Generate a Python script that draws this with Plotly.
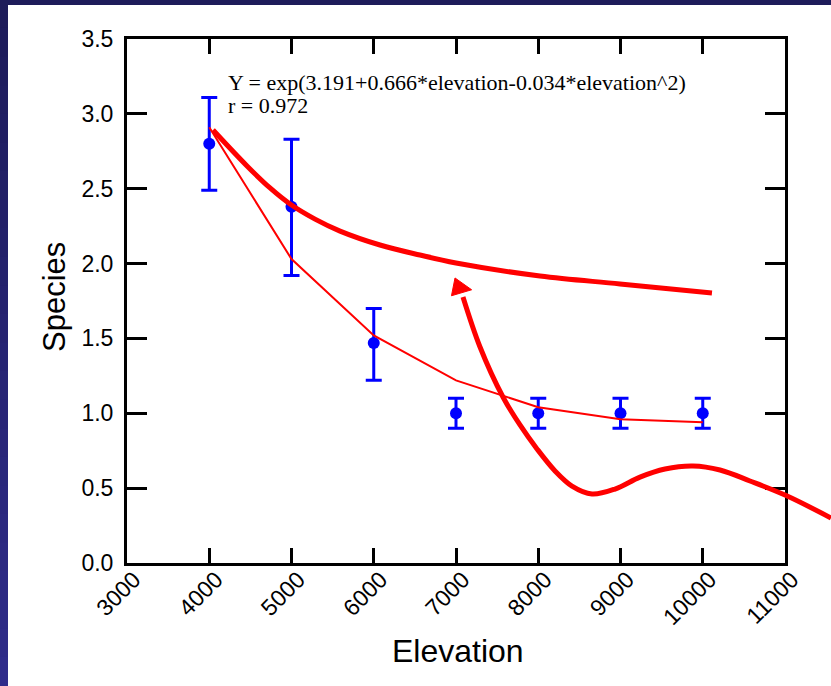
import plotly.graph_objects as go

# ---- data ----
elev = [4000, 5000, 6000, 7000, 8000, 9000, 10000]
species = [2.80, 2.38, 1.47, 1.00, 1.00, 1.00, 1.00]
err_plus = [0.31, 0.45, 0.23, 0.10, 0.10, 0.10, 0.10]
err_minus = [0.31, 0.46, 0.25, 0.10, 0.10, 0.10, 0.10]
fit_y = [2.91, 2.03, 1.52, 1.22, 1.04, 0.96, 0.94]

# hand-drawn emphasis curve (in elevation / species units)
curve_x = [4046, 4459, 4739, 4982, 5286, 5590, 6076, 6562, 7000, 8021, 8994, 10112]
curve_y = [2.892, 2.652, 2.505, 2.398, 2.297, 2.217, 2.124, 2.057, 2.004, 1.917, 1.864, 1.803]

# hand-drawn arrow (in elevation / species units, extends past the axes)
arrow_x = [11559, 11000, 10574, 10210, 9881, 9541, 9237, 8933, 8653, 8410, 8204,
           7985, 7778, 7571, 7292, 7085]
arrow_y = [0.301, 0.454, 0.548, 0.621, 0.648, 0.628, 0.574, 0.494, 0.461, 0.514, 0.615,
           0.762, 0.922, 1.109, 1.443, 1.777]
arrow_head_x = [6988, 6945, 7190, 6988]
arrow_head_y = [1.904, 1.785, 1.825, 1.904]

x_ticks = [3000, 4000, 5000, 6000, 7000, 8000, 9000, 10000, 11000]
x_tick_text = ["3000", "4000", "5000", "6000", "7000", "8000", "9000", "10000", "11000"]
y_ticks = [0.0, 0.5, 1.0, 1.5, 2.0, 2.5, 3.0, 3.5]

eq_line1 = "Y = exp(3.191+0.666*elevation-0.034*elevation^2)"
eq_line2 = "r = 0.972"

# ---- layout geometry (pixels) ----
W, H = 831, 686
PL, PR, PT, PB = 127, 785, 39, 563
XR = [3000, 11000]
YR = [0, 3.5]

xd = [PL / W, PR / W]
yd = [(H - PB) / H, (H - PT) / H]
# full-page overlay axes with identical data mapping
sx = (XR[1] - XR[0]) / (PR - PL)
sy = (YR[1] - YR[0]) / (PB - PT)
x2r = [XR[0] - PL * sx, XR[0] + (W - PL) * sx]
y2r = [YR[0] - (H - PB) * sy, YR[0] + PB * sy]

SANS = "Liberation Sans, Arial, sans-serif"
SERIF = "Liberation Serif, Times New Roman, serif"

fig = go.Figure()

fig.add_trace(go.Scatter(
    x=elev, y=species, mode="markers",
    marker=dict(color="#0000ff", size=12),
    error_y=dict(type="data", symmetric=False, array=err_plus, arrayminus=err_minus,
                 color="#0000ff", thickness=3, width=8),
    showlegend=False, cliponaxis=False))

fig.add_trace(go.Scatter(
    x=elev, y=fit_y, mode="lines",
    line=dict(color="#ff0000", width=2), showlegend=False))

fig.add_trace(go.Scatter(
    x=curve_x, y=curve_y, mode="lines",
    line=dict(color="#ff0000", width=5, shape="spline", smoothing=1.0),
    showlegend=False))

fig.add_trace(go.Scatter(
    x=arrow_x, y=arrow_y, mode="lines", xaxis="x2", yaxis="y2",
    line=dict(color="#ff0000", width=5, shape="spline", smoothing=1.0),
    showlegend=False))

fig.add_trace(go.Scatter(
    x=arrow_head_x, y=arrow_head_y, mode="lines", fill="toself", xaxis="x2", yaxis="y2",
    fillcolor="#ff0000", line=dict(color="#ff0000", width=1), showlegend=False))

# background: navy frame with white slide area
shapes = []
n = 24
for i in range(n):
    t = i / (n - 1)
    r = int(0x1e + (0x2f - 0x1e) * t)
    g = int(0x1c + (0x2c - 0x1c) * t)
    b = int(0x5a + (0x8a - 0x5a) * t)
    shapes.append(dict(type="rect", xref="paper", yref="paper",
                       x0=0, x1=8 / W, y0=1 - (i + 1) / n, y1=1 - i / n + 0.001,
                       fillcolor=f"rgb({r},{g},{b})", line=dict(width=0), layer="below"))
shapes.append(dict(type="rect", xref="paper", yref="paper",
                   x0=8 / W, x1=1, y0=0, y1=(H - 5) / H,
                   fillcolor="white", line=dict(width=0), layer="below"))

axis_common = dict(showgrid=False, zeroline=False, showline=True, linecolor="black",
                   linewidth=3, ticks="inside", tickwidth=3, tickcolor="black",
                   mirror="ticks", automargin=False,
                   tickfont=dict(family=SANS, size=23, color="black"))

fig.update_layout(
    width=W, height=H,
    margin=dict(l=0, r=0, t=0, b=0, pad=0),
    paper_bgcolor="#1e1c5a", plot_bgcolor="rgba(0,0,0,0)",
    template="none",
    shapes=shapes,
    xaxis=dict(domain=xd, range=XR, tickvals=x_ticks, ticktext=x_tick_text, ticklen=15,
               tickangle=-45, ticklabelstandoff=-9, ticklabelshift=7, **axis_common),
    yaxis=dict(domain=yd, range=YR, tickvals=y_ticks, tickformat=".1f", ticklen=20,
               ticklabelstandoff=6, **axis_common),
    xaxis2=dict(domain=[0, 1], range=x2r, anchor="y2", visible=False),
    yaxis2=dict(domain=[0, 1], range=y2r, anchor="x2", visible=False),
    annotations=[
        dict(text="Elevation", xref="paper", yref="paper", x=458 / W, y=1 - 651 / H,
             showarrow=False, xanchor="center", yanchor="middle",
             font=dict(family=SANS, size=32, color="black")),
        dict(text="Species", xref="paper", yref="paper", x=55 / W, y=1 - 297 / H,
             showarrow=False, xanchor="center", yanchor="middle", textangle=-90,
             font=dict(family=SANS, size=31, color="black")),
        dict(text=eq_line1, xref="paper", yref="paper", x=226 / W, y=1 - 83 / H,
             showarrow=False, xanchor="left", yanchor="middle",
             font=dict(family=SERIF, size=22, color="black")),
        dict(text=eq_line2, xref="paper", yref="paper", x=226 / W, y=1 - 105 / H,
             showarrow=False, xanchor="left", yanchor="middle",
             font=dict(family=SERIF, size=22, color="black")),
    ],
)

fig.write_html("out.html")
